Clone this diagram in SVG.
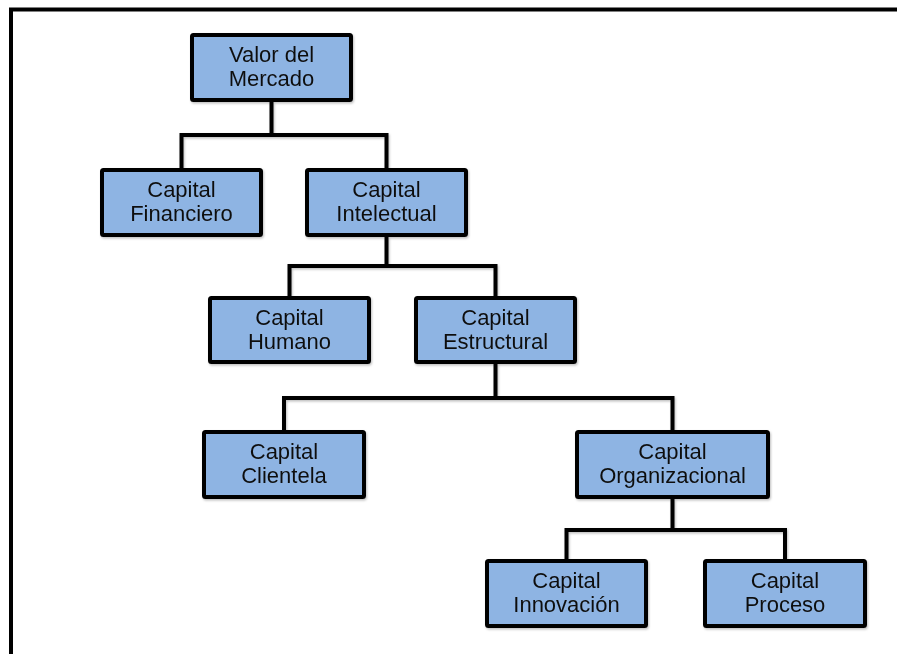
<svg xmlns="http://www.w3.org/2000/svg" width="897" height="654" viewBox="0 0 897 654">
<defs>
<style>
.box{fill:#8EB4E3;stroke:#000;stroke-width:4;}
.lbl{font-family:"Liberation Sans",Arial,sans-serif;font-size:22px;fill:#111;text-anchor:middle;}
.con{fill:none;stroke:#000;stroke-width:4;stroke-linejoin:miter;}
</style>
<filter id="sh" x="-10%" y="-10%" width="130%" height="130%">
<feDropShadow dx="1" dy="1.5" stdDeviation="1.2" flood-color="#000" flood-opacity="0.25"/>
</filter>
</defs>
<rect width="897" height="654" fill="#fff"/>
<rect x="11" y="9.5" width="900" height="700" fill="none" stroke="#000" stroke-width="4"/>
<g id="connectors" filter="url(#sh)">
<path class="con" d="M271.5,102 V135 M181.5,168 V135 H386.5 V168"/>
<path class="con" d="M386.5,237 V266 M289.5,296 V266 H495.5 V296"/>
<path class="con" d="M495.5,364 V398 M284,430 V398 H672.5 V430"/>
<path class="con" d="M672.5,499 V530 M566.5,559 V530 H785 V559"/>
</g>
<g id="valor" filter="url(#sh)"><rect class="box" x="192" y="35" width="159" height="65" rx="1.5"/><text class="lbl" x="271.5" y="62">Valor del</text><text class="lbl" x="271.5" y="86">Mercado</text></g>
<g id="financiero" filter="url(#sh)"><rect class="box" x="102" y="170" width="159" height="65" rx="1.5"/><text class="lbl" x="181.5" y="197">Capital</text><text class="lbl" x="181.5" y="221">Financiero</text></g>
<g id="intelectual" filter="url(#sh)"><rect class="box" x="307" y="170" width="159" height="65" rx="1.5"/><text class="lbl" x="386.5" y="197">Capital</text><text class="lbl" x="386.5" y="221">Intelectual</text></g>
<g id="humano" filter="url(#sh)"><rect class="box" x="210" y="298" width="159" height="64" rx="1.5"/><text class="lbl" x="289.5" y="325">Capital</text><text class="lbl" x="289.5" y="349">Humano</text></g>
<g id="estructural" filter="url(#sh)"><rect class="box" x="416" y="298" width="159" height="64" rx="1.5"/><text class="lbl" x="495.5" y="325">Capital</text><text class="lbl" x="495.5" y="349">Estructural</text></g>
<g id="clientela" filter="url(#sh)"><rect class="box" x="204" y="432" width="160" height="65" rx="1.5"/><text class="lbl" x="284" y="459">Capital</text><text class="lbl" x="284" y="483">Clientela</text></g>
<g id="organizacional" filter="url(#sh)"><rect class="box" x="577" y="432" width="191" height="65" rx="1.5"/><text class="lbl" x="672.5" y="459">Capital</text><text class="lbl" x="672.5" y="483">Organizacional</text></g>
<g id="innovacion" filter="url(#sh)"><rect class="box" x="487" y="561" width="159" height="65" rx="1.5"/><text class="lbl" x="566.5" y="588">Capital</text><text class="lbl" x="566.5" y="612">Innovación</text></g>
<g id="proceso" filter="url(#sh)"><rect class="box" x="705" y="561" width="160" height="65" rx="1.5"/><text class="lbl" x="785" y="588">Capital</text><text class="lbl" x="785" y="612">Proceso</text></g>
</svg>
